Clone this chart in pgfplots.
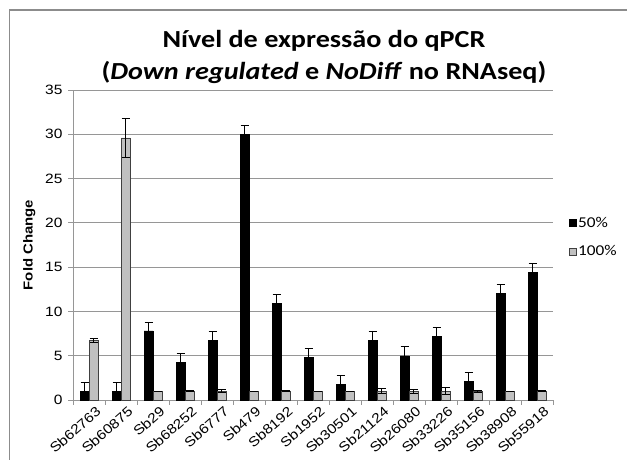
\documentclass[border=0pt]{standalone}
\usepackage{pgfplots}
\pgfplotsset{compat=1.18}
\usepackage{fontspec}
\setmainfont{Liberation Sans}[FakeStretch=1.15]
\newfontfamily\titlefont{Carlito}[FakeStretch=1.15]
\definecolor{barblack}{RGB}{0,0,0}
\definecolor{bargray}{RGB}{192,192,192}
\definecolor{gridgray}{RGB}{150,150,150}
\definecolor{framegray}{RGB}{140,140,140}
\begin{document}
\begin{tikzpicture}[x=1bp,y=1bp]
\useasboundingbox (0,0) rectangle (627,460);
\draw[framegray, line width=1.2bp] (9.5,0) -- (9.5,450) -- (627,450);
\node[font=\titlefont\bfseries\fontsize{24.5bp}{32bp}\selectfont, align=center] at (324,403)
 {Nível de expressão do qPCR\\(\textit{Down regulated} e \textit{NoDiff} no RNAseq)};
\begin{axis}[
  at={(73bp,60bp)}, anchor=south west,
  width=480bp, height=310bp, scale only axis,
  ymin=0, ymax=35, ytick={0,5,...,35},
  xmin=-0.5, xmax=14.5,
  xtick={0,...,14},
  xticklabels={Sb62763,Sb60875,Sb29,Sb68252,Sb6777,Sb479,Sb8192,Sb1952,Sb30501,Sb21124,Sb26080,Sb33226,Sb35156,Sb38908,Sb55918},
  minor xtick={-0.5,0.5,...,14.5},
  major x tick style={draw=none},
  minor x tick style={gridgray, line width=0.8bp},
  y tick style={gridgray, line width=0.8bp},
  tick align=outside,
  major tick length=5bp, minor tick length=5bp,
  axis x line*=bottom, axis y line*=left,
  axis line style={gridgray, line width=0.8bp, -},
  ymajorgrids, grid style={gridgray, line width=0.8bp},
  /pgf/number format/assume math mode=true,
  tick label style={font=\fontsize{13.5bp}{15bp}\selectfont, text=black},
  xticklabel style={rotate=41, anchor=north east, inner sep=0.5bp, yshift=-4bp, xshift=5bp},
  yticklabel style={xshift=-2bp},
  ylabel={\bfseries Fold Change},
  ylabel style={at={(axis description cs:-0.091,0.5)}, anchor=center, rotate=0, font=\fontsize{13bp}{15bp}\selectfont},
  ybar, bar width=9bp,
  legend style={at={(axis description cs:1.032,0.525)}, anchor=west, draw=none, fill=none,
    font=\titlefont\fontsize{15bp}{17bp}\selectfont, row sep=13bp, inner sep=0pt},
  legend cell align=left,
  legend image code/.code={\draw[#1, line width=0.6bp] (0bp,-3.5bp) rectangle (7bp,3.5bp);},
  clip=false,
]
\addplot+[bar shift=-4.5bp, fill=barblack, draw=black, line width=0.6bp,
  error bars/.cd, y dir=both, y explicit, error mark=-, error bar style={black, line width=0.8bp},
  error mark options={black, mark size=4bp, line width=0.8bp, rotate=90}]
 coordinates {
 (0,1.0) +- (0,1.0)
 (1,1.0) +- (0,0.95)
 (2,7.8) +- (0,1.0)
 (3,4.2) +- (0,1.1)
 (4,6.7) +- (0,1.0)
 (5,30.0) +- (0,1.0)
 (6,10.9) +- (0,1.0)
 (7,4.85) +- (0,1.0)
 (8,1.77) +- (0,1.0)
 (9,6.77) +- (0,1.03)
 (10,4.97) +- (0,1.03)
 (11,7.15) +- (0,1.02)
 (12,2.07) +- (0,1.03)
 (13,12.04) +- (0,1.02)
 (14,14.4) +- (0,1.0)
 };
\addplot+[bar shift=4.5bp, fill=bargray, draw=black!75, line width=0.6bp,
  error bars/.cd, y dir=both, y explicit, error mark=-, error bar style={black, line width=0.8bp},
  error mark options={black, mark size=4bp, line width=0.8bp, rotate=90}]
 coordinates {
 (0,6.7) +- (0,0.25)
 (1,29.6) +- (0,2.2)
 (2,1.0) +- (0,0.0)
 (3,1.0) +- (0,0.05)
 (4,1.0) +- (0,0.15)
 (5,1.0) +- (0,0.0)
 (6,1.0) +- (0,0.05)
 (7,1.0) +- (0,0.0)
 (8,1.0) +- (0,0.0)
 (9,1.0) +- (0,0.3)
 (10,1.0) +- (0,0.2)
 (11,1.0) +- (0,0.4)
 (12,1.0) +- (0,0.1)
 (13,1.0) +- (0,0.0)
 (14,1.0) +- (0,0.05)
 };
\legend{50\%,100\%}
\end{axis}
\end{tikzpicture}
\end{document}
